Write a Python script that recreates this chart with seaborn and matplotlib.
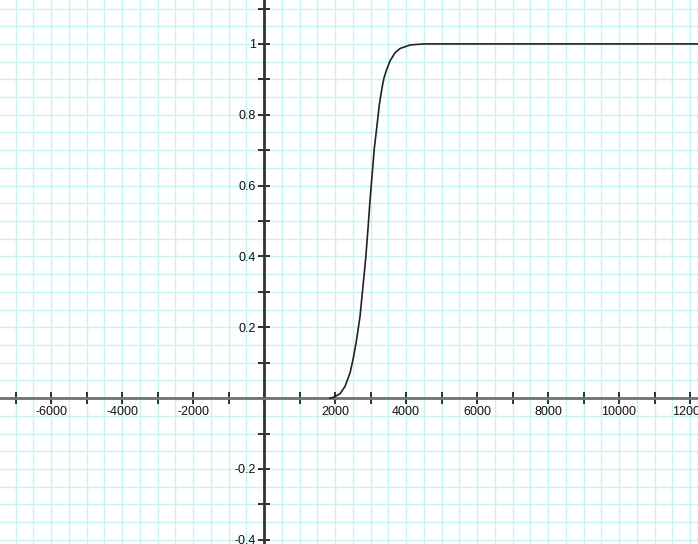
import matplotlib
matplotlib.use("Agg")
import matplotlib.pyplot as plt
from matplotlib.ticker import MultipleLocator, FuncFormatter
import seaborn as sns
import pandas as pd

# Data (cumulative distribution)
x_vals = [1850, 1950, 2141, 2282, 2423, 2516, 2600, 2704, 2797, 2865, 2938, 2986,
          3107, 3175, 3248, 3324, 3380, 3456, 3549, 3690, 3831, 4113, 4487, 12300]
y_vals = [0.0, 0.002, 0.012, 0.033, 0.071, 0.113, 0.160, 0.230, 0.325, 0.395, 0.490, 0.559,
          0.705, 0.763, 0.828, 0.876, 0.904, 0.928, 0.952, 0.975, 0.987, 0.997, 1.0, 1.0]

x_limits = (-7437, 12225)
y_limits = (-0.412, 1.124)

df = pd.DataFrame({"x": x_vals, "y": y_vals})

sns.set_style("white")
plt.rcParams["font.family"] = ["Liberation Sans", "DejaVu Sans"]
plt.rcParams["axes.unicode_minus"] = False

fig = plt.figure(figsize=(6.98, 5.44), dpi=100)
ax = fig.add_axes([0, 0, 1, 1])

sns.lineplot(data=df, x="x", y="y", ax=ax, color="#222222", linewidth=1.2,
             zorder=5, estimator=None, sort=False)

ax.set_xlim(*x_limits)
ax.set_ylim(*y_limits)
ax.set_xlabel("")
ax.set_ylabel("")

# Spines through origin
ax.spines["left"].set_position(("data", 0))
ax.spines["bottom"].set_position(("data", 0))
ax.spines["top"].set_visible(False)
ax.spines["right"].set_visible(False)
ax.spines["bottom"].set_color("#707070")
ax.spines["bottom"].set_linewidth(2)
ax.spines["left"].set_color("#333333")
ax.spines["left"].set_linewidth(2)

ax.xaxis.set_major_locator(MultipleLocator(1000))
ax.xaxis.set_minor_locator(MultipleLocator(500))
ax.yaxis.set_major_locator(MultipleLocator(0.1))
ax.yaxis.set_minor_locator(MultipleLocator(0.05))


def xfmt(v, pos):
    r = int(round(v))
    if r == 0 or r % 2000 != 0:
        return ""
    return str(r)


def yfmt(v, pos):
    r = round(v * 10)
    if r == 0 or r % 2 != 0:
        return ""
    val = r / 10
    if abs(val - round(val)) < 1e-9:
        return str(int(round(val)))
    return "%g" % val


ax.xaxis.set_major_formatter(FuncFormatter(xfmt))
ax.yaxis.set_major_formatter(FuncFormatter(yfmt))

ax.tick_params(axis="x", which="major", bottom=True, direction="inout", length=8, width=1.2,
               color="#111111", labelsize=9, labelcolor="#111111", pad=2)
ax.tick_params(axis="y", which="major", left=True, direction="inout", length=8, width=1.2,
               color="#111111", labelsize=9, labelcolor="#111111", pad=2)
ax.tick_params(axis="both", which="minor", length=0)

ax.grid(True, which="both", color="#c4f4f4", linewidth=1.0, zorder=0)
ax.set_axisbelow(True)

fig.savefig("out.png", dpi=100)
